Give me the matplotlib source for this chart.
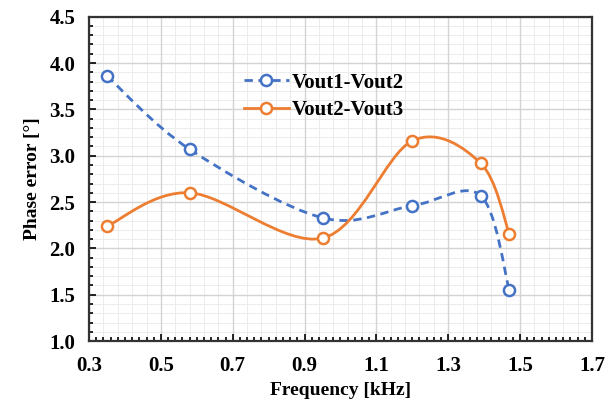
import matplotlib.pyplot as plt
import numpy as np
from matplotlib.path import Path
from matplotlib.patches import PathPatch
from matplotlib.lines import Line2D
from matplotlib.ticker import MultipleLocator, FixedLocator

# data
freq_12 = [0.35, 0.58, 0.95, 1.20, 1.39, 1.47]
err_12 = [3.86, 3.07, 2.33, 2.46, 2.57, 1.55]
freq_23 = [0.35, 0.58, 0.95, 1.20, 1.39, 1.47]
err_23 = [2.24, 2.60, 2.11, 3.16, 2.92, 2.16]
x_ticks = [0.3, 0.5, 0.7, 0.9, 1.1, 1.3, 1.5, 1.7]

BLUE = '#4472C4'
ORANGE = '#ED7D31'

plt.rcParams['font.family'] = ['Liberation Serif', 'DejaVu Serif']
plt.rcParams['font.weight'] = 'bold'


def smooth_path(x, y):
    """Excel-like smoothed line: cubic Bezier segments through the points."""
    p = np.column_stack([x, y]).astype(float)
    n = len(p)
    verts = [p[0]]
    codes = [Path.MOVETO]
    for i in range(n - 1):
        p0 = p[i - 1] if i > 0 else p[i]
        p3 = p[i + 2] if i + 2 < n else p[i + 1]
        c1 = p[i] + (p[i + 1] - p0) / 6.0
        c2 = p[i + 1] - (p3 - p[i]) / 6.0
        verts += [c1, c2, p[i + 1]]
        codes += [Path.CURVE4] * 3
    return Path(verts, codes)


fig = plt.figure(figsize=(6.14, 4.07), dpi=100)
ax = fig.add_axes([0.145, 0.162, 0.819, 0.797])

ax.set_xlim(0.3, 1.7)
ax.set_ylim(1.0, 4.5)

# grid
ax.xaxis.set_major_locator(FixedLocator(x_ticks))
ax.yaxis.set_major_locator(MultipleLocator(0.5))
ax.xaxis.set_minor_locator(MultipleLocator(0.02))
ax.yaxis.set_minor_locator(MultipleLocator(0.1))
for xv in np.arange(0.3, 1.7, 0.04):
    ax.axvline(xv, color='#ececec', lw=0.7, zorder=0)
for yv in np.arange(1.0, 4.5, 0.1):
    ax.axhline(yv, color='#ececec', lw=0.7, zorder=0)
ax.grid(True, which='major', color='#d4d4d4', lw=1.0, zorder=0.5)

ax.tick_params(which='both', direction='in', top=False, right=False,
               labelsize=15, width=1.2)
ax.tick_params(which='major', length=5)
ax.tick_params(axis='x', which='major', pad=11)
ax.tick_params(axis='y', which='major', pad=10)
ax.tick_params(which='minor', length=3)
ax.xaxis.set_major_formatter(plt.FuncFormatter(lambda v, _: f'{v:.1f}'))
ax.yaxis.set_major_formatter(plt.FuncFormatter(lambda v, _: f'{v:.1f}'))
for s in ax.spines.values():
    s.set_linewidth(1.6)
    s.set_color('#333333')

# curves
ax.add_patch(PathPatch(smooth_path(freq_12, err_12), fill=False, edgecolor=BLUE,
                       lw=2, linestyle=(0, (3, 2)), zorder=3))
ax.add_patch(PathPatch(smooth_path(freq_23, err_23), fill=False, edgecolor=ORANGE,
                       lw=2, zorder=3))
ax.plot(freq_12, err_12, 'o', ms=8, mfc='white', mec=BLUE, mew=1.8, zorder=4)
ax.plot(freq_23, err_23, 'o', ms=8, mfc='white', mec=ORANGE, mew=1.8, zorder=4)

handles = [
    Line2D([], [], color=BLUE, lw=2, linestyle=(0, (3, 2)), marker='o', ms=8,
           mfc='white', mec=BLUE, mew=1.8),
    Line2D([], [], color=ORANGE, lw=2, marker='o', ms=8,
           mfc='white', mec=ORANGE, mew=1.8),
]
ax.legend(handles, ['Vout1-Vout2', 'Vout2-Vout3'], loc='upper left',
          bbox_to_anchor=(0.27, 0.885), frameon=False, fontsize=15,
          handlelength=2.2, handletextpad=0.1, labelspacing=0.35)

ax.set_xlabel('Frequency [kHz]', fontsize=14, fontweight='bold', labelpad=4)
ax.set_ylabel('Phase error [°]', fontsize=14, fontweight='bold', labelpad=6)

fig.savefig('out.png', dpi=100)
